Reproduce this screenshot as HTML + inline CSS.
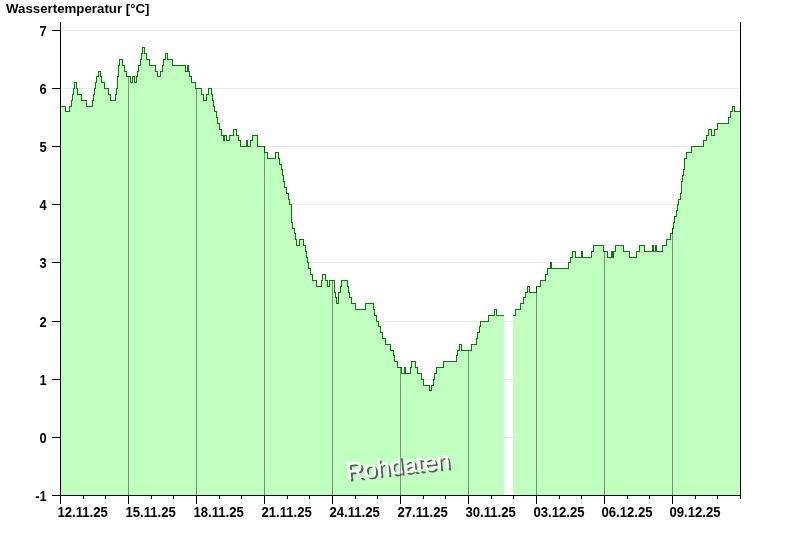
<!DOCTYPE html>
<html><head><meta charset="utf-8"><title>Wassertemperatur</title>
<style>
html,body{margin:0;padding:0;background:#fff;}
body{width:800px;height:550px;overflow:hidden;font-family:"Liberation Sans",sans-serif;}
svg{display:block;will-change:transform}
text{font-family:"Liberation Sans",sans-serif;font-weight:bold;font-size:14.6px;fill:#000}
</style></head><body>
<svg width="800" height="550" viewBox="0 0 800 550">
<rect width="800" height="550" fill="#fff"/>
<g stroke="#e9e9e9" stroke-width="1" shape-rendering="crispEdges"><line x1="61" x2="740" y1="437.5" y2="437.5"/><line x1="61" x2="740" y1="379.5" y2="379.5"/><line x1="61" x2="740" y1="321.5" y2="321.5"/><line x1="61" x2="740" y1="262.5" y2="262.5"/><line x1="61" x2="740" y1="204.5" y2="204.5"/><line x1="61" x2="740" y1="146.5" y2="146.5"/><line x1="61" x2="740" y1="88.5" y2="88.5"/><line x1="61" x2="740" y1="30.5" y2="30.5"/></g>
<path d="M60.5,495 L60.5,106.5 L65.5,106.5 L65.5,111.5 L69.5,111.5 L69.5,106.5 L71.5,106.5 L71.5,100.5 L72.5,100.5 L72.5,94.5 L73.5,94.5 L73.5,88.5 L74.5,88.5 L74.5,82.5 L76.5,82.5 L76.5,88.5 L77.5,88.5 L77.5,94.5 L81.5,94.5 L81.5,100.5 L86.5,100.5 L86.5,106.5 L92.5,106.5 L92.5,100.5 L93.5,100.5 L93.5,94.5 L94.5,94.5 L94.5,88.5 L95.5,88.5 L95.5,82.5 L96.5,82.5 L96.5,76.5 L98.5,76.5 L98.5,71.5 L100.5,71.5 L100.5,76.5 L101.5,76.5 L101.5,82.5 L104.5,82.5 L104.5,88.5 L108.5,88.5 L108.5,94.5 L110.5,94.5 L110.5,100.5 L115.5,100.5 L115.5,94.5 L116.5,94.5 L116.5,88.5 L117.5,88.5 L117.5,82.5 L117.5,82.5 L117.5,76.5 L118.5,76.5 L118.5,71.5 L118.5,71.5 L118.5,65.5 L119.5,65.5 L119.5,59.5 L122.5,59.5 L122.5,65.5 L124.5,65.5 L124.5,71.5 L126.5,71.5 L126.5,76.5 L130.5,76.5 L130.5,82.5 L132.5,82.5 L132.5,76.5 L134.5,76.5 L134.5,82.5 L136.5,82.5 L136.5,76.5 L137.5,76.5 L137.5,71.5 L138.5,71.5 L138.5,65.5 L140.5,65.5 L140.5,59.5 L141.5,59.5 L141.5,53.5 L142.5,53.5 L142.5,47.5 L144.5,47.5 L144.5,53.5 L146.5,53.5 L146.5,59.5 L149.5,59.5 L149.5,65.5 L155.5,65.5 L155.5,71.5 L157.5,71.5 L157.5,76.5 L160.5,76.5 L160.5,71.5 L162.5,71.5 L162.5,65.5 L163.5,65.5 L163.5,59.5 L165.5,59.5 L165.5,53.5 L167.5,53.5 L167.5,59.5 L172.5,59.5 L172.5,65.5 L185.5,65.5 L185.5,71.5 L187.5,71.5 L187.5,65.5 L188.5,65.5 L188.5,71.5 L189.5,71.5 L189.5,76.5 L191.5,76.5 L191.5,82.5 L195.5,82.5 L195.5,88.5 L201.5,88.5 L201.5,94.5 L203.5,94.5 L203.5,100.5 L206.5,100.5 L206.5,94.5 L208.5,94.5 L208.5,88.5 L211.5,88.5 L211.5,94.5 L212.5,94.5 L212.5,100.5 L213.5,100.5 L213.5,106.5 L214.5,106.5 L214.5,111.5 L216.5,111.5 L216.5,117.5 L217.5,117.5 L217.5,123.5 L219.5,123.5 L219.5,129.5 L221.5,129.5 L221.5,135.5 L223.5,135.5 L223.5,140.5 L224.5,140.5 L224.5,135.5 L226.5,135.5 L226.5,140.5 L229.5,140.5 L229.5,135.5 L233.5,135.5 L233.5,129.5 L236.5,129.5 L236.5,135.5 L238.5,135.5 L238.5,140.5 L240.5,140.5 L240.5,146.5 L246.5,146.5 L246.5,140.5 L247.5,140.5 L247.5,146.5 L250.5,146.5 L250.5,140.5 L252.5,140.5 L252.5,135.5 L257.5,135.5 L257.5,146.5 L264.5,146.5 L264.5,152.5 L267.5,152.5 L267.5,158.5 L275.5,158.5 L275.5,152.5 L278.5,152.5 L278.5,158.5 L279.5,158.5 L279.5,164.5 L281.5,164.5 L281.5,169.5 L282.5,169.5 L282.5,175.5 L283.5,175.5 L283.5,181.5 L284.5,181.5 L284.5,187.5 L286.5,187.5 L286.5,193.5 L288.5,193.5 L288.5,199.5 L289.5,199.5 L289.5,204.5 L291.5,204.5 L291.5,222.5 L292.5,222.5 L292.5,228.5 L294.5,228.5 L294.5,233.5 L295.5,233.5 L295.5,239.5 L296.5,239.5 L296.5,245.5 L299.5,245.5 L299.5,239.5 L303.5,239.5 L303.5,245.5 L305.5,245.5 L305.5,251.5 L306.5,251.5 L306.5,257.5 L307.5,257.5 L307.5,262.5 L308.5,262.5 L308.5,268.5 L310.5,268.5 L310.5,274.5 L312.5,274.5 L312.5,280.5 L316.5,280.5 L316.5,286.5 L321.5,286.5 L321.5,280.5 L322.5,280.5 L322.5,274.5 L325.5,274.5 L325.5,280.5 L327.5,280.5 L327.5,286.5 L329.5,286.5 L329.5,280.5 L334.5,280.5 L334.5,292.5 L335.5,292.5 L335.5,297.5 L336.5,297.5 L336.5,303.5 L338.5,303.5 L338.5,292.5 L340.5,292.5 L340.5,286.5 L341.5,286.5 L341.5,280.5 L347.5,280.5 L347.5,286.5 L348.5,286.5 L348.5,292.5 L349.5,292.5 L349.5,297.5 L351.5,297.5 L351.5,303.5 L355.5,303.5 L355.5,309.5 L365.5,309.5 L365.5,303.5 L373.5,303.5 L373.5,309.5 L374.5,309.5 L374.5,315.5 L376.5,315.5 L376.5,321.5 L378.5,321.5 L378.5,326.5 L380.5,326.5 L380.5,332.5 L382.5,332.5 L382.5,338.5 L385.5,338.5 L385.5,344.5 L390.5,344.5 L390.5,350.5 L393.5,350.5 L393.5,355.5 L394.5,355.5 L394.5,361.5 L397.5,361.5 L397.5,367.5 L401.5,367.5 L401.5,373.5 L404.5,373.5 L404.5,367.5 L405.5,367.5 L405.5,373.5 L410.5,373.5 L410.5,367.5 L411.5,367.5 L411.5,361.5 L415.5,361.5 L415.5,367.5 L417.5,367.5 L417.5,373.5 L421.5,373.5 L421.5,379.5 L423.5,379.5 L423.5,385.5 L429.5,385.5 L429.5,390.5 L431.5,390.5 L431.5,385.5 L433.5,385.5 L433.5,379.5 L434.5,379.5 L434.5,373.5 L436.5,373.5 L436.5,367.5 L443.5,367.5 L443.5,361.5 L456.5,361.5 L456.5,355.5 L457.5,355.5 L457.5,350.5 L459.5,350.5 L459.5,344.5 L461.5,344.5 L461.5,350.5 L471.5,350.5 L471.5,344.5 L476.5,344.5 L476.5,338.5 L477.5,338.5 L477.5,332.5 L479.5,332.5 L479.5,326.5 L480.5,326.5 L480.5,321.5 L488.5,321.5 L488.5,315.5 L494.5,315.5 L494.5,309.5 L496.5,309.5 L496.5,315.5 L503.5,315.5 L503.5,495 Z M512.5,495 L512.5,315.5 L515.5,315.5 L515.5,309.5 L520.5,309.5 L520.5,303.5 L523.5,303.5 L523.5,297.5 L525.5,297.5 L525.5,292.5 L527.5,292.5 L527.5,286.5 L529.5,286.5 L529.5,292.5 L536.5,292.5 L536.5,286.5 L540.5,286.5 L540.5,280.5 L545.5,280.5 L545.5,274.5 L547.5,274.5 L547.5,268.5 L550.5,268.5 L550.5,262.5 L551.5,262.5 L551.5,268.5 L568.5,268.5 L568.5,262.5 L570.5,262.5 L570.5,257.5 L572.5,257.5 L572.5,251.5 L575.5,251.5 L575.5,257.5 L581.5,257.5 L581.5,251.5 L582.5,251.5 L582.5,257.5 L591.5,257.5 L591.5,251.5 L593.5,251.5 L593.5,245.5 L603.5,245.5 L603.5,251.5 L607.5,251.5 L607.5,257.5 L611.5,257.5 L611.5,251.5 L612.5,251.5 L612.5,257.5 L613.5,257.5 L613.5,251.5 L615.5,251.5 L615.5,245.5 L623.5,245.5 L623.5,251.5 L629.5,251.5 L629.5,257.5 L636.5,257.5 L636.5,251.5 L639.5,251.5 L639.5,245.5 L644.5,245.5 L644.5,251.5 L652.5,251.5 L652.5,245.5 L653.5,245.5 L653.5,251.5 L655.5,251.5 L655.5,245.5 L656.5,245.5 L656.5,251.5 L662.5,251.5 L662.5,245.5 L666.5,245.5 L666.5,239.5 L670.5,239.5 L670.5,233.5 L672.5,233.5 L672.5,228.5 L673.5,228.5 L673.5,222.5 L674.5,222.5 L674.5,216.5 L676.5,216.5 L676.5,210.5 L677.5,210.5 L677.5,204.5 L678.5,204.5 L678.5,199.5 L680.5,199.5 L680.5,193.5 L681.5,193.5 L681.5,181.5 L682.5,181.5 L682.5,175.5 L683.5,175.5 L683.5,169.5 L684.5,169.5 L684.5,158.5 L686.5,158.5 L686.5,152.5 L691.5,152.5 L691.5,146.5 L703.5,146.5 L703.5,140.5 L706.5,140.5 L706.5,135.5 L708.5,135.5 L708.5,129.5 L711.5,129.5 L711.5,135.5 L714.5,135.5 L714.5,129.5 L717.5,129.5 L717.5,123.5 L728.5,123.5 L728.5,117.5 L730.5,117.5 L730.5,111.5 L732.5,111.5 L732.5,106.5 L734.5,106.5 L734.5,111.5 L740.5,111.5 L740.5,495 Z " fill="#c0ffc0" shape-rendering="crispEdges"/>
<g style="font-size:24px;font-weight:normal"><text transform="translate(349.3,481.7) rotate(-6.5)" style="font-size:24px;font-weight:normal;fill:#5c5c5c">Rohdaten</text><text transform="translate(347.1,479.6) rotate(-6.5)" style="font-size:24px;font-weight:normal;fill:#ffffff;stroke:#fff;stroke-width:0.4px">Rohdaten</text></g>
<path d="M60.5,106.5 L65.5,106.5 L65.5,111.5 L69.5,111.5 L69.5,106.5 L71.5,106.5 L71.5,100.5 L72.5,100.5 L72.5,94.5 L73.5,94.5 L73.5,88.5 L74.5,88.5 L74.5,82.5 L76.5,82.5 L76.5,88.5 L77.5,88.5 L77.5,94.5 L81.5,94.5 L81.5,100.5 L86.5,100.5 L86.5,106.5 L92.5,106.5 L92.5,100.5 L93.5,100.5 L93.5,94.5 L94.5,94.5 L94.5,88.5 L95.5,88.5 L95.5,82.5 L96.5,82.5 L96.5,76.5 L98.5,76.5 L98.5,71.5 L100.5,71.5 L100.5,76.5 L101.5,76.5 L101.5,82.5 L104.5,82.5 L104.5,88.5 L108.5,88.5 L108.5,94.5 L110.5,94.5 L110.5,100.5 L115.5,100.5 L115.5,94.5 L116.5,94.5 L116.5,88.5 L117.5,88.5 L117.5,82.5 L117.5,82.5 L117.5,76.5 L118.5,76.5 L118.5,71.5 L118.5,71.5 L118.5,65.5 L119.5,65.5 L119.5,59.5 L122.5,59.5 L122.5,65.5 L124.5,65.5 L124.5,71.5 L126.5,71.5 L126.5,76.5 L130.5,76.5 L130.5,82.5 L132.5,82.5 L132.5,76.5 L134.5,76.5 L134.5,82.5 L136.5,82.5 L136.5,76.5 L137.5,76.5 L137.5,71.5 L138.5,71.5 L138.5,65.5 L140.5,65.5 L140.5,59.5 L141.5,59.5 L141.5,53.5 L142.5,53.5 L142.5,47.5 L144.5,47.5 L144.5,53.5 L146.5,53.5 L146.5,59.5 L149.5,59.5 L149.5,65.5 L155.5,65.5 L155.5,71.5 L157.5,71.5 L157.5,76.5 L160.5,76.5 L160.5,71.5 L162.5,71.5 L162.5,65.5 L163.5,65.5 L163.5,59.5 L165.5,59.5 L165.5,53.5 L167.5,53.5 L167.5,59.5 L172.5,59.5 L172.5,65.5 L185.5,65.5 L185.5,71.5 L187.5,71.5 L187.5,65.5 L188.5,65.5 L188.5,71.5 L189.5,71.5 L189.5,76.5 L191.5,76.5 L191.5,82.5 L195.5,82.5 L195.5,88.5 L201.5,88.5 L201.5,94.5 L203.5,94.5 L203.5,100.5 L206.5,100.5 L206.5,94.5 L208.5,94.5 L208.5,88.5 L211.5,88.5 L211.5,94.5 L212.5,94.5 L212.5,100.5 L213.5,100.5 L213.5,106.5 L214.5,106.5 L214.5,111.5 L216.5,111.5 L216.5,117.5 L217.5,117.5 L217.5,123.5 L219.5,123.5 L219.5,129.5 L221.5,129.5 L221.5,135.5 L223.5,135.5 L223.5,140.5 L224.5,140.5 L224.5,135.5 L226.5,135.5 L226.5,140.5 L229.5,140.5 L229.5,135.5 L233.5,135.5 L233.5,129.5 L236.5,129.5 L236.5,135.5 L238.5,135.5 L238.5,140.5 L240.5,140.5 L240.5,146.5 L246.5,146.5 L246.5,140.5 L247.5,140.5 L247.5,146.5 L250.5,146.5 L250.5,140.5 L252.5,140.5 L252.5,135.5 L257.5,135.5 L257.5,146.5 L264.5,146.5 L264.5,152.5 L267.5,152.5 L267.5,158.5 L275.5,158.5 L275.5,152.5 L278.5,152.5 L278.5,158.5 L279.5,158.5 L279.5,164.5 L281.5,164.5 L281.5,169.5 L282.5,169.5 L282.5,175.5 L283.5,175.5 L283.5,181.5 L284.5,181.5 L284.5,187.5 L286.5,187.5 L286.5,193.5 L288.5,193.5 L288.5,199.5 L289.5,199.5 L289.5,204.5 L291.5,204.5 L291.5,222.5 L292.5,222.5 L292.5,228.5 L294.5,228.5 L294.5,233.5 L295.5,233.5 L295.5,239.5 L296.5,239.5 L296.5,245.5 L299.5,245.5 L299.5,239.5 L303.5,239.5 L303.5,245.5 L305.5,245.5 L305.5,251.5 L306.5,251.5 L306.5,257.5 L307.5,257.5 L307.5,262.5 L308.5,262.5 L308.5,268.5 L310.5,268.5 L310.5,274.5 L312.5,274.5 L312.5,280.5 L316.5,280.5 L316.5,286.5 L321.5,286.5 L321.5,280.5 L322.5,280.5 L322.5,274.5 L325.5,274.5 L325.5,280.5 L327.5,280.5 L327.5,286.5 L329.5,286.5 L329.5,280.5 L334.5,280.5 L334.5,292.5 L335.5,292.5 L335.5,297.5 L336.5,297.5 L336.5,303.5 L338.5,303.5 L338.5,292.5 L340.5,292.5 L340.5,286.5 L341.5,286.5 L341.5,280.5 L347.5,280.5 L347.5,286.5 L348.5,286.5 L348.5,292.5 L349.5,292.5 L349.5,297.5 L351.5,297.5 L351.5,303.5 L355.5,303.5 L355.5,309.5 L365.5,309.5 L365.5,303.5 L373.5,303.5 L373.5,309.5 L374.5,309.5 L374.5,315.5 L376.5,315.5 L376.5,321.5 L378.5,321.5 L378.5,326.5 L380.5,326.5 L380.5,332.5 L382.5,332.5 L382.5,338.5 L385.5,338.5 L385.5,344.5 L390.5,344.5 L390.5,350.5 L393.5,350.5 L393.5,355.5 L394.5,355.5 L394.5,361.5 L397.5,361.5 L397.5,367.5 L401.5,367.5 L401.5,373.5 L404.5,373.5 L404.5,367.5 L405.5,367.5 L405.5,373.5 L410.5,373.5 L410.5,367.5 L411.5,367.5 L411.5,361.5 L415.5,361.5 L415.5,367.5 L417.5,367.5 L417.5,373.5 L421.5,373.5 L421.5,379.5 L423.5,379.5 L423.5,385.5 L429.5,385.5 L429.5,390.5 L431.5,390.5 L431.5,385.5 L433.5,385.5 L433.5,379.5 L434.5,379.5 L434.5,373.5 L436.5,373.5 L436.5,367.5 L443.5,367.5 L443.5,361.5 L456.5,361.5 L456.5,355.5 L457.5,355.5 L457.5,350.5 L459.5,350.5 L459.5,344.5 L461.5,344.5 L461.5,350.5 L471.5,350.5 L471.5,344.5 L476.5,344.5 L476.5,338.5 L477.5,338.5 L477.5,332.5 L479.5,332.5 L479.5,326.5 L480.5,326.5 L480.5,321.5 L488.5,321.5 L488.5,315.5 L494.5,315.5 L494.5,309.5 L496.5,309.5 L496.5,315.5 L503.5,315.5 M513.5,315.5 L515.5,315.5 L515.5,309.5 L520.5,309.5 L520.5,303.5 L523.5,303.5 L523.5,297.5 L525.5,297.5 L525.5,292.5 L527.5,292.5 L527.5,286.5 L529.5,286.5 L529.5,292.5 L536.5,292.5 L536.5,286.5 L540.5,286.5 L540.5,280.5 L545.5,280.5 L545.5,274.5 L547.5,274.5 L547.5,268.5 L550.5,268.5 L550.5,262.5 L551.5,262.5 L551.5,268.5 L568.5,268.5 L568.5,262.5 L570.5,262.5 L570.5,257.5 L572.5,257.5 L572.5,251.5 L575.5,251.5 L575.5,257.5 L581.5,257.5 L581.5,251.5 L582.5,251.5 L582.5,257.5 L591.5,257.5 L591.5,251.5 L593.5,251.5 L593.5,245.5 L603.5,245.5 L603.5,251.5 L607.5,251.5 L607.5,257.5 L611.5,257.5 L611.5,251.5 L612.5,251.5 L612.5,257.5 L613.5,257.5 L613.5,251.5 L615.5,251.5 L615.5,245.5 L623.5,245.5 L623.5,251.5 L629.5,251.5 L629.5,257.5 L636.5,257.5 L636.5,251.5 L639.5,251.5 L639.5,245.5 L644.5,245.5 L644.5,251.5 L652.5,251.5 L652.5,245.5 L653.5,245.5 L653.5,251.5 L655.5,251.5 L655.5,245.5 L656.5,245.5 L656.5,251.5 L662.5,251.5 L662.5,245.5 L666.5,245.5 L666.5,239.5 L670.5,239.5 L670.5,233.5 L672.5,233.5 L672.5,228.5 L673.5,228.5 L673.5,222.5 L674.5,222.5 L674.5,216.5 L676.5,216.5 L676.5,210.5 L677.5,210.5 L677.5,204.5 L678.5,204.5 L678.5,199.5 L680.5,199.5 L680.5,193.5 L681.5,193.5 L681.5,181.5 L682.5,181.5 L682.5,175.5 L683.5,175.5 L683.5,169.5 L684.5,169.5 L684.5,158.5 L686.5,158.5 L686.5,152.5 L691.5,152.5 L691.5,146.5 L703.5,146.5 L703.5,140.5 L706.5,140.5 L706.5,135.5 L708.5,135.5 L708.5,129.5 L711.5,129.5 L711.5,135.5 L714.5,135.5 L714.5,129.5 L717.5,129.5 L717.5,123.5 L728.5,123.5 L728.5,117.5 L730.5,117.5 L730.5,111.5 L732.5,111.5 L732.5,106.5 L734.5,106.5 L734.5,111.5 L740.5,111.5 " fill="none" stroke="#008000" stroke-width="1" stroke-linejoin="miter" stroke-linecap="square" shape-rendering="crispEdges"/>
<g stroke="#000" stroke-opacity="0.4" stroke-width="1" shape-rendering="crispEdges"><line x1="128.5" x2="128.5" y1="76.0" y2="495"/><line x1="196.5" x2="196.5" y1="88.0" y2="495"/><line x1="264.5" x2="264.5" y1="146.0" y2="495"/><line x1="332.5" x2="332.5" y1="280.0" y2="495"/><line x1="400.5" x2="400.5" y1="367.0" y2="495"/><line x1="468.5" x2="468.5" y1="350.0" y2="495"/><line x1="536.5" x2="536.5" y1="286.0" y2="495"/><line x1="604.5" x2="604.5" y1="251.0" y2="495"/><line x1="672.5" x2="672.5" y1="228.0" y2="495"/></g>
<g stroke="#000" stroke-width="1" shape-rendering="crispEdges">
<line x1="60.5" x2="60.5" y1="22" y2="496"/>
<line x1="740.5" x2="740.5" y1="22" y2="496"/>
<line x1="52" x2="741" y1="495.5" y2="495.5"/>
<line x1="52" x2="60" y1="495.5" y2="495.5"/><line x1="52" x2="60" y1="437.5" y2="437.5"/><line x1="52" x2="60" y1="379.5" y2="379.5"/><line x1="52" x2="60" y1="321.5" y2="321.5"/><line x1="52" x2="60" y1="262.5" y2="262.5"/><line x1="52" x2="60" y1="204.5" y2="204.5"/><line x1="52" x2="60" y1="146.5" y2="146.5"/><line x1="52" x2="60" y1="88.5" y2="88.5"/><line x1="52" x2="60" y1="30.5" y2="30.5"/><line x1="60.5" x2="60.5" y1="495" y2="504"/><line x1="83.5" x2="83.5" y1="495" y2="499"/><line x1="105.5" x2="105.5" y1="495" y2="499"/><line x1="128.5" x2="128.5" y1="495" y2="504"/><line x1="151.5" x2="151.5" y1="495" y2="499"/><line x1="173.5" x2="173.5" y1="495" y2="499"/><line x1="196.5" x2="196.5" y1="495" y2="504"/><line x1="219.5" x2="219.5" y1="495" y2="499"/><line x1="241.5" x2="241.5" y1="495" y2="499"/><line x1="264.5" x2="264.5" y1="495" y2="504"/><line x1="287.5" x2="287.5" y1="495" y2="499"/><line x1="309.5" x2="309.5" y1="495" y2="499"/><line x1="332.5" x2="332.5" y1="495" y2="504"/><line x1="355.5" x2="355.5" y1="495" y2="499"/><line x1="377.5" x2="377.5" y1="495" y2="499"/><line x1="400.5" x2="400.5" y1="495" y2="504"/><line x1="423.5" x2="423.5" y1="495" y2="499"/><line x1="445.5" x2="445.5" y1="495" y2="499"/><line x1="468.5" x2="468.5" y1="495" y2="504"/><line x1="491.5" x2="491.5" y1="495" y2="499"/><line x1="513.5" x2="513.5" y1="495" y2="499"/><line x1="536.5" x2="536.5" y1="495" y2="504"/><line x1="559.5" x2="559.5" y1="495" y2="499"/><line x1="581.5" x2="581.5" y1="495" y2="499"/><line x1="604.5" x2="604.5" y1="495" y2="504"/><line x1="627.5" x2="627.5" y1="495" y2="499"/><line x1="649.5" x2="649.5" y1="495" y2="499"/><line x1="672.5" x2="672.5" y1="495" y2="504"/><line x1="695.5" x2="695.5" y1="495" y2="499"/><line x1="717.5" x2="717.5" y1="495" y2="499"/><line x1="740.5" x2="740.5" y1="495" y2="499"/></g>
<g><text transform="translate(46.6,501.0) scale(0.88,1)" text-anchor="end">-1</text><text transform="translate(46.6,443.0) scale(0.88,1)" text-anchor="end">0</text><text transform="translate(46.6,385.0) scale(0.88,1)" text-anchor="end">1</text><text transform="translate(46.6,327.0) scale(0.88,1)" text-anchor="end">2</text><text transform="translate(46.6,268.0) scale(0.88,1)" text-anchor="end">3</text><text transform="translate(46.6,210.0) scale(0.88,1)" text-anchor="end">4</text><text transform="translate(46.6,152.0) scale(0.88,1)" text-anchor="end">5</text><text transform="translate(46.6,94.0) scale(0.88,1)" text-anchor="end">6</text><text transform="translate(46.6,36.0) scale(0.88,1)" text-anchor="end">7</text><text transform="translate(57.4,517.3) scale(0.90,1)">12.11.25</text><text transform="translate(125.4,517.3) scale(0.90,1)">15.11.25</text><text transform="translate(193.4,517.3) scale(0.90,1)">18.11.25</text><text transform="translate(261.4,517.3) scale(0.90,1)">21.11.25</text><text transform="translate(329.4,517.3) scale(0.90,1)">24.11.25</text><text transform="translate(397.4,517.3) scale(0.90,1)">27.11.25</text><text transform="translate(465.4,517.3) scale(0.90,1)">30.11.25</text><text transform="translate(533.4,517.3) scale(0.90,1)">03.12.25</text><text transform="translate(601.4,517.3) scale(0.90,1)">06.12.25</text><text transform="translate(669.4,517.3) scale(0.90,1)">09.12.25</text></g>
<text x="6" y="13" style="font-size:13.7px" textLength="143.5" lengthAdjust="spacingAndGlyphs">Wassertemperatur [°C]</text>
</svg>
</body></html>
